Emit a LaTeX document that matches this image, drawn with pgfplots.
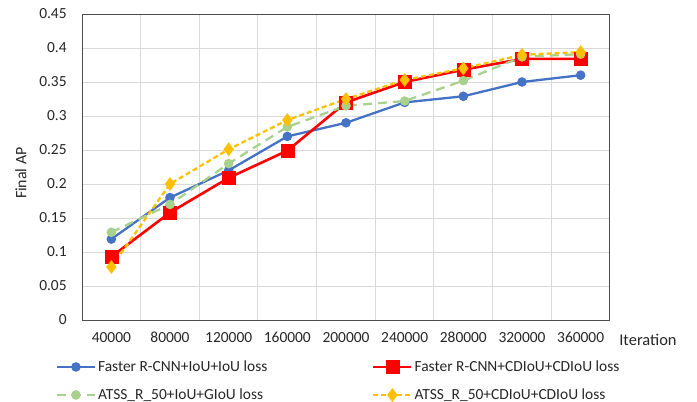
\documentclass[border=0pt]{standalone}
\usepackage{pgfplots}
\pgfplotsset{compat=1.18}
\usepackage{fontspec}
\setmainfont{Carlito}
\definecolor{cblue}{HTML}{4472C4}
\definecolor{cred}{HTML}{FF0000}
\definecolor{cgreen}{HTML}{A9D18E}
\definecolor{cyellow}{HTML}{FFC000}
\definecolor{cgrid}{HTML}{D9D9D9}
\definecolor{ctext}{HTML}{262626}
\begin{document}
\begin{tikzpicture}
\fontsize{15.5pt}{18pt}\selectfont
\path[use as bounding box] (-82bp,-82bp) rectangle (615bp,320bp);
\begin{axis}[
  at={(0,0)}, anchor=south west,
  scale only axis, width=528bp, height=306bp,
  xmin=-0.5, xmax=8.5, ymin=0, ymax=0.45,
  xtick={0,1,2,3,4,5,6,7,8},
  xticklabels={40000,80000,120000,160000,200000,240000,280000,320000,360000},
  minor xtick={0.5,1.5,...,7.5},
  ytick={0,0.05,...,0.451},
  yticklabel style={/pgf/number format/fixed,/pgf/number format/precision=2},
  /pgf/number format/assume math mode=true,
  xminorgrids=true, ymajorgrids=true,
  grid style={cgrid, line width=1pt},
  minor grid style={cgrid, line width=1pt},
  major tick length=0pt, minor tick length=0pt,
  axis line style={draw=black!70, line width=1pt},
  tick label style={text=ctext, font=\fontsize{15.5pt}{18pt}\selectfont},
  xticklabel style={yshift=-7bp},
  yticklabel style={xshift=-10bp},
  ylabel={Final AP},
  ylabel style={text=ctext, font=\fontsize{16pt}{18pt}\selectfont, at={(axis description cs:-0.095,0.48)}, anchor=south},
  xlabel={Iteration},
  xlabel style={text=ctext, font=\fontsize{16.5pt}{18pt}\selectfont, at={(axis description cs:1,0)}, anchor=west, yshift=-20bp, xshift=4bp},
  legend columns=2,
  legend style={draw=none, fill=none, at={(axis description cs:-0.05,-0.125)}, anchor=north west,
    font=\fontsize{15.5pt}{18pt}\selectfont, text=ctext, row sep=11bp, column sep=0pt, inner sep=0pt},
  legend cell align=left,
  legend image code/.code={\draw[mark repeat=2,mark phase=2] plot coordinates {(0bp,0bp) (19bp,0bp) (38bp,0bp)};},
]
\addplot[cblue, line width=2.3pt, mark=*, mark size=3.6pt, mark options={solid}] coordinates {
(0,0.119)(1,0.18)(2,0.22)(3,0.27)(4,0.29)(5,0.32)(6,0.329)(7,0.35)(8,0.36)};
\addlegendentry{\makebox[272bp][l]{Faster R-CNN+IoU+IoU loss}}
\addplot[cred, line width=2.6pt, mark=square*, mark size=6.5pt, mark options={solid, line width=0.5pt}] coordinates {
(0,0.093)(1,0.158)(2,0.209)(3,0.249)(4,0.32)(5,0.35)(6,0.368)(7,0.384)(8,0.384)};
\addlegendentry{Faster R-CNN+CDIoU+CDIoU loss}
\addplot[cgreen, line width=2.3pt, dash pattern=on 9bp off 6bp, mark=*, mark size=3.6pt, mark options={solid}] coordinates {
(0,0.129)(1,0.17)(2,0.23)(3,0.284)(4,0.315)(5,0.322)(6,0.352)(7,0.387)(8,0.391)};
\addlegendentry{ATSS\_R\_50+IoU+GIoU loss}
\addplot[cyellow, line width=2.3pt, dash pattern=on 5bp off 3bp, mark=diamond*, mark size=6.5pt, mark options={solid, line width=0.5pt}] coordinates {
(0,0.078)(1,0.2)(2,0.251)(3,0.294)(4,0.325)(5,0.353)(6,0.37)(7,0.39)(8,0.394)};
\addlegendentry{ATSS\_R\_50+CDIoU+CDIoU loss}
\end{axis}
\end{tikzpicture}
\end{document}
